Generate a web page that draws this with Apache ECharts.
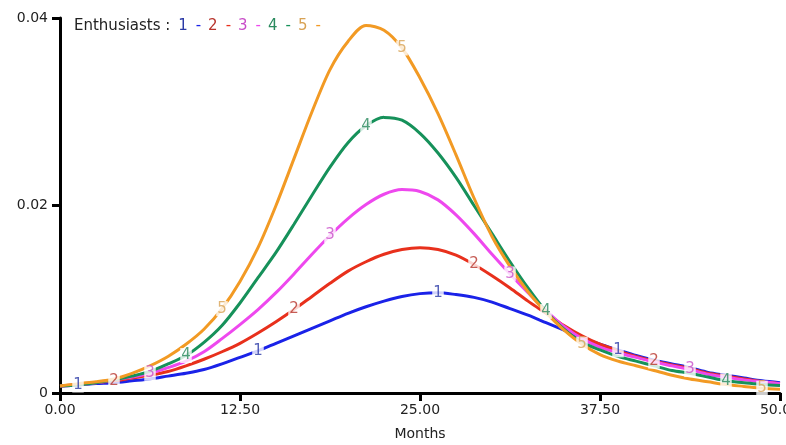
<!DOCTYPE html>
<html>
<head>
<meta charset="utf-8">
<script src="https://cdn.jsdelivr.net/npm/echarts@6/dist/echarts.min.js"></script>
<style>
html,body{margin:0;padding:0;background:#fff;}
#c{width:786px;height:445px;}
</style>
</head>
<body>
<div id="c"></div>
<script>
// Months (x values)
const months = [0,1.25,2.5,3.75,5,6.25,7.5,8.75,10,11.25,12.5,13.75,15,16.25,17.5,18.75,20,21.25,22.5,23.75,25,
  26.25,27.5,28.75,30,31.25,32.5,33.75,35,36.25,37.5,38.75,40,41.25,42.5,43.75,45,46.25,47.5,48.75,50];

// Enthusiasts, run 1..5
const run1 = [0.00075,0.00085,0.0010,0.0011,0.0013,0.0015,0.0018,0.0021,0.0025,0.0031,0.0038,0.0045,0.0053,0.0061,0.0069,0.0077,0.0085,0.0092,0.0098,0.0103,0.0106,
  0.0107,0.0105,0.0102,0.0097,0.0090,0.0083,0.0075,0.0067,0.0059,0.0052,0.0046,0.0040,0.0035,0.0031,0.0027,0.0022,0.0019,0.0016,0.0013,0.0011];
const run2 = [0.00075,0.0009,0.0011,0.0013,0.0016,0.0019,0.0023,0.0029,0.0036,0.0044,0.0053,0.0064,0.0076,0.0089,0.0103,0.0117,0.0130,0.0140,0.0148,0.0153,0.0155,
  0.0153,0.0147,0.0137,0.0125,0.0112,0.0098,0.0085,0.0072,0.0061,0.0052,0.0045,0.0039,0.0034,0.0030,0.0026,0.0021,0.0018,0.0015,0.0012,0.0010];
const run3 = [0.00075,0.00085,0.0011,0.0014,0.0017,0.0021,0.0027,0.0034,0.0044,0.0058,0.0073,0.0089,0.0107,0.0127,0.0148,0.0168,0.0186,0.0201,0.0212,0.0217,0.0215,
  0.0206,0.0190,0.0170,0.0148,0.0127,0.0107,0.0088,0.0071,0.0058,0.0049,0.0043,0.0038,0.0033,0.0029,0.0025,0.0020,0.0017,0.0014,0.0012,0.0010];
const run4 = [0.00075,0.00085,0.0011,0.0014,0.0018,0.0023,0.0031,0.0040,0.0054,0.0072,0.0096,0.0123,0.0150,0.0180,0.0211,0.0241,0.0267,0.0285,0.0294,0.0291,0.0277,
  0.0256,0.0230,0.0200,0.0170,0.0140,0.0112,0.0087,0.0068,0.0054,0.0046,0.0039,0.0034,0.0029,0.0024,0.0021,0.0017,0.0013,0.0011,0.0009,0.0008];
const run5 = [0.00075,0.0010,0.0012,0.0015,0.0021,0.0029,0.0039,0.0052,0.0068,0.0090,0.0119,0.0155,0.0200,0.0250,0.0300,0.0345,0.0375,0.0392,0.0387,0.0368,0.0336,
  0.0298,0.0254,0.0208,0.0167,0.0135,0.0108,0.0086,0.0067,0.0052,0.0041,0.0034,0.0029,0.0024,0.0019,0.0015,0.0012,0.0009,0.0007,0.0005,0.0004];

// Index positions (into months) where each run's number tag sits on its curve
const tags1 = [1,11,21,31];
const tags2 = [3,13,23,33];
const tags3 = [5,15,25,35];
const tags4 = [7,17,27,37];
const tags5 = [9,19,29,39];

const runNames = ['1','2','3','4','5'];
const yTicks = [0, 0.02, 0.04];
const xTicks = [0, 12.5, 25, 37.5, 50];

const runs = [run1, run2, run3, run4, run5];
const tags = [tags1, tags2, tags3, tags4, tags5];
const lineColors = ['#1a22e8', '#e8301c', '#ee48ee', '#16915a', '#f29a24'];
const tagColors = ['#2b3aa6', '#b8342c', '#c84cc8', '#2a8a5e', '#d8a254'];
const FONT = 'DejaVu Sans';

const series = [];
runs.forEach((r, i) => {
  series.push({
    type: 'line', name: runNames[i],
    data: months.map((m, j) => [m, r[j]]),
    showSymbol: false, smooth: 0.3,
    lineStyle: { width: 3, color: lineColors[i] },
    itemStyle: { color: lineColors[i] },
    z: 2 + i, animation: false
  });
});
runs.forEach((r, i) => {
  series.push({
    type: 'scatter',
    data: tags[i].map(j => [months[j], r[j]]),
    symbolSize: 1,
    itemStyle: { color: 'transparent' },
    label: {
      show: true, position: 'inside', formatter: runNames[i],
      color: tagColors[i], backgroundColor: '#fff', padding: [0, 1, 0, 1],
      fontFamily: FONT, fontSize: 15
    },
    z: 10, animation: false
  });
});

const rich = { t: { fill: '#222', fontFamily: FONT, fontSize: 15 } };
let legendText = '{t|Enthusiasts : }';
runNames.forEach((n, i) => {
  rich['c' + i] = { fill: tagColors[i], fontFamily: FONT, fontSize: 15, padding: [0, 4, 0, 3] };
  rich['d' + i] = { fill: lineColors[i], fontFamily: FONT, fontSize: 15, padding: [0, 4, 0, 4] };
  legendText += '{c' + i + '|' + n + '}{d' + i + '|-}';
});

const chart = echarts.init(document.getElementById('c'), null, { renderer: 'canvas' });
chart.setOption({
  animation: false,
  backgroundColor: '#fff',
  grid: { left: 60, right: 6, top: 18, bottom: 52, containLabel: false, outerBoundsMode: 'none' },
  graphic: [{
    type: 'text', left: 74, top: 19,
    style: { text: legendText, rich: rich, fontFamily: FONT, fontSize: 15 }
  }],
  xAxis: {
    type: 'value', min: xTicks[0], max: xTicks[xTicks.length - 1], interval: 12.5,
    name: 'Months', nameLocation: 'middle', nameGap: 34,
    nameTextStyle: { color: '#222', fontFamily: FONT, fontSize: 14 },
    axisLine: { lineStyle: { color: '#000', width: 3 } },
    axisTick: { length: 8, lineStyle: { color: '#000', width: 3 } },
    axisLabel: { color: '#222', fontFamily: FONT, fontSize: 14, margin: 10,
      formatter: v => v.toFixed(2) },
    splitLine: { show: false }
  },
  yAxis: {
    type: 'value', min: yTicks[0], max: yTicks[yTicks.length - 1], interval: 0.02,
    axisLine: { show: true, lineStyle: { color: '#000', width: 3 } },
    axisTick: { show: true, length: 8, lineStyle: { color: '#000', width: 3 } },
    axisLabel: { color: '#222', fontFamily: FONT, fontSize: 14, margin: 12,
      formatter: v => v === 0 ? '0' : v.toFixed(2) },
    splitLine: { show: false }
  },
  series: series
});
</script>
</body>
</html>
